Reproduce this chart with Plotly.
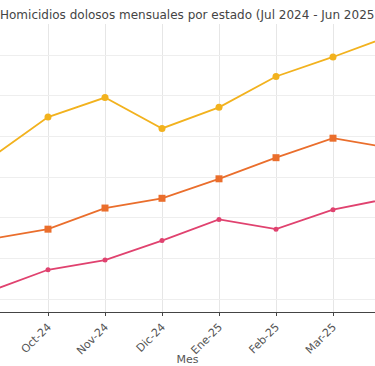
import plotly.graph_objects as go

months = ["Jul-24", "Ago-24", "Sep-24", "Oct-24", "Nov-24", "Dic-24",
          "Ene-25", "Feb-25", "Mar-25", "Abr-25", "May-25", "Jun-25"]
estado_a = [198, 185, 187, 212, 224, 205, 218, 237, 249, 262, 255, 258]
estado_b = [150, 144, 137, 143, 156, 162, 174, 187, 199, 193, 197, 190]
estado_c = [112, 104, 105, 118, 124, 136, 149, 143, 155, 162, 158, 165]
series_names = ["Estado A", "Estado B", "Estado C"]
colors = ["#F2B21E", "#EA6E2C", "#E0426F"]
symbols = ["circle", "square", "circle"]

fig = go.Figure()
for name, vals, col, sym, sz in zip(series_names, [estado_a, estado_b, estado_c],
                                    colors, symbols, [7, 7, 5]):
    fig.add_trace(go.Scatter(x=months, y=vals, mode="lines+markers", name=name,
                             line=dict(color=col, width=1.8),
                             marker=dict(color=col, symbol=sym, size=sz)))

x0 = 2 + 9/57.0
fig.update_layout(
    width=375, height=366,
    margin=dict(l=0, r=0, t=24, b=54, autoexpand=False),
    paper_bgcolor="white", plot_bgcolor="white",
    showlegend=False,
    font=dict(family="DejaVu Sans", color="#555"),
    title=dict(text="Homicidios dolosos mensuales por estado (Jul 2024 - Jun 2025)",
               x=0, xref="container", xanchor="left",
               y=1 - 14.5/366, yref="container", yanchor="middle",
               pad=dict(l=0, r=0, t=0, b=0),
               automargin=False,
               font=dict(size=12, color="#444")),
)
fig.update_xaxes(
    type="category", range=[x0, x0 + 375/57.0], automargin=False,
    showgrid=True, gridcolor="#e6e6e6", gridwidth=1,
    showline=True, linecolor="#444", linewidth=1.2,
    ticks="outside", ticklen=3, tickcolor="#444",
    tickangle=-45, tickfont=dict(size=11, color="#555"),
    title=dict(text="Mes", font=dict(size=11, color="#555"), standoff=4),
)
fig.update_yaxes(
    range=[92.0, 269.3], dtick=25, tick0=0, automargin=False,
    showgrid=True, gridcolor="#eeeeee", gridwidth=1,
    showticklabels=False, zeroline=False, showline=False, ticks="",
)

fig.write_html("out.html", config={"displayModeBar": False},
               post_script="document.body.style.margin='0';document.body.style.overflow='hidden';")
